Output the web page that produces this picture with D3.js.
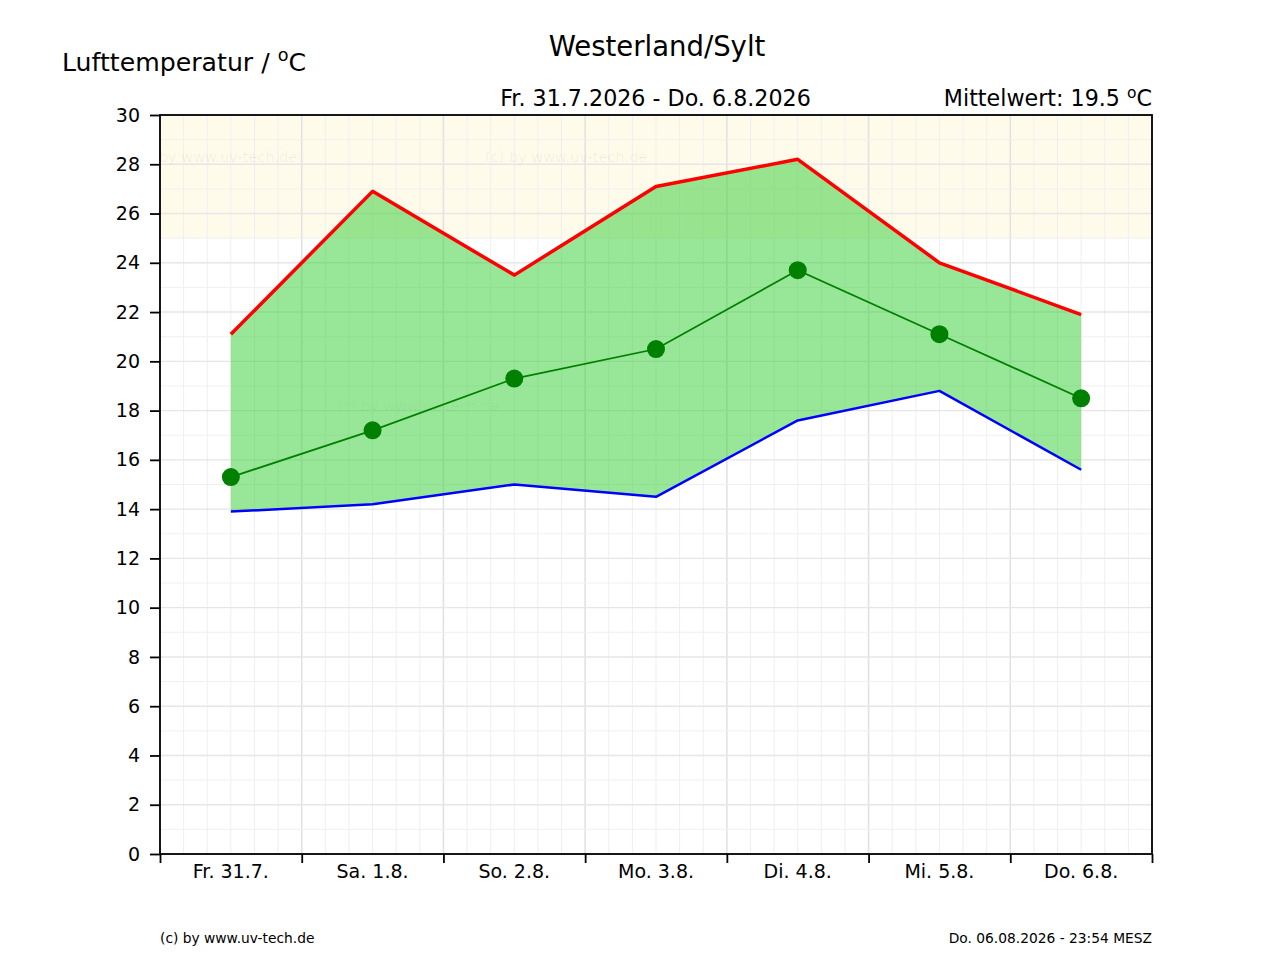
<!DOCTYPE html>
<html>
<head>
<meta charset="utf-8">
<script src="https://cdn.jsdelivr.net/npm/d3@7"></script>
<style>
  html, body { margin: 0; padding: 0; background: #ffffff; }
  svg { display: block; font-family: "DejaVu Sans", sans-serif; }
</style>
</head>
<body>
<svg id="chart" width="1280" height="960"></svg>
<script>
const days = ["Fr. 31.7.", "Sa. 1.8.", "So. 2.8.", "Mo. 3.8.", "Di. 4.8.", "Mi. 5.8.", "Do. 6.8."];
const maxTemp  = [21.1, 26.9, 23.5, 27.1, 28.2, 24.0, 21.9];
const minTemp  = [13.9, 14.2, 15.0, 14.5, 17.6, 18.8, 15.6];
const meanTemp = [15.3, 17.2, 19.3, 20.5, 23.7, 21.1, 18.5];
const yTicks = [0, 2, 4, 6, 8, 10, 12, 14, 16, 18, 20, 22, 24, 26, 28, 30];
const warmBand = [25, 30];

const title = "Westerland/Sylt";
const period = "Fr. 31.7.2026 - Do. 6.8.2026";
const meanLabel = "Mittelwert: 19.5 ";
const yLabel = "Lufttemperatur / ";
const footLeft = "(c) by www.uv-tech.de";
const footRight = "Do. 06.08.2026 - 23:54 MESZ";
const watermark = "(c) by  www.uv-tech.de";

const L = 160, R = 1152, T = 115, B = 854;
const svg = d3.select("#chart");
const x = d3.scaleLinear().domain([0, days.length]).range([L, R]);
const y = d3.scaleLinear().domain([0, 30]).range([B, T]);

svg.append("defs").append("clipPath").attr("id", "plotclip")
  .append("rect").attr("x", L).attr("y", T).attr("width", R - L).attr("height", B - T);

// warm band
svg.append("rect")
  .attr("x", L).attr("width", R - L)
  .attr("y", y(warmBand[1])).attr("height", y(warmBand[0]) - y(warmBand[1]))
  .attr("fill", "#fffbeb");

// grid
const grid = svg.append("g");
const minorX = d3.range(0, days.length * 6 + 1).map(d => d / 6);
grid.selectAll(".vx").data(minorX).join("line")
  .attr("x1", d => x(d)).attr("x2", d => x(d))
  .attr("y1", T).attr("y2", B)
  .attr("stroke", d => Number.isInteger(d) ? "#e2e2e2" : "#efefef")
  .attr("stroke-width", d => Number.isInteger(d) ? 1.6 : 1);
const minorY = d3.range(0, 31);
grid.selectAll(".hy").data(minorY).join("line")
  .attr("x1", L).attr("x2", R)
  .attr("y1", d => y(d)).attr("y2", d => y(d))
  .attr("stroke", d => d % 2 === 0 ? "#e6e6e6" : "#f0f0f0")
  .attr("stroke-width", d => d % 2 === 0 ? 1.4 : 1);

// watermarks
const wm = svg.append("g").attr("clip-path", "url(#plotclip)")
  .attr("font-size", 14.5).attr("fill", "#000").attr("fill-opacity", 0.06);
wm.append("text").attr("x", 135).attr("y", 162).text(watermark);
wm.append("text").attr("x", 485).attr("y", 162).text(watermark);
svg.append("rect").attr("x", 333).attr("y", 397).attr("width", 161).attr("height", 18)
  .attr("fill", "#ffffff").attr("fill-opacity", 0.12);
wm.append("text").attr("x", 337).attr("y", 411).text(watermark);

const xc = (d, i) => x(i + 0.5);

// band fill
const area = d3.area()
  .x((d, i) => x(i + 0.5))
  .y0((d, i) => y(minTemp[i]))
  .y1((d, i) => y(maxTemp[i]));
svg.append("path").datum(days).attr("d", area)
  .attr("fill", "#32cd32").attr("fill-opacity", 0.5);

const line = arr => d3.line().x((d, i) => x(i + 0.5)).y(d => y(d))(arr);
svg.append("path").attr("d", line(maxTemp)).attr("fill", "none")
  .attr("stroke", "#ff0000").attr("stroke-width", 3.5).attr("stroke-linejoin", "round");
svg.append("path").attr("d", line(minTemp)).attr("fill", "none")
  .attr("stroke", "#0000ff").attr("stroke-width", 2.5).attr("stroke-linejoin", "round");
svg.append("path").attr("d", line(meanTemp)).attr("fill", "none")
  .attr("stroke", "#008000").attr("stroke-width", 1.8);
svg.selectAll(".dot").data(meanTemp).join("circle")
  .attr("cx", xc).attr("cy", d => y(d)).attr("r", 9)
  .attr("fill", "#008000");

// axes
const yAxis = svg.append("g").attr("transform", `translate(${L},0)`)
  .call(d3.axisLeft(y).tickValues(yTicks).tickSize(10).tickPadding(10).tickFormat(d3.format("d")));
const xAxis = svg.append("g").attr("transform", `translate(0,${B})`)
  .call(d3.axisBottom(x).tickValues(d3.range(0, days.length + 1)).tickSize(9).tickFormat(""));
[yAxis, xAxis].forEach(a => {
  a.select(".domain").remove();
  a.selectAll(".tick line").attr("stroke", "#000").attr("stroke-width", 1.8);
  a.selectAll("text").attr("font-size", 19).attr("font-family", "DejaVu Sans").attr("fill", "#000");
});
svg.append("g").selectAll("text").data(days).join("text")
  .attr("x", (d, i) => x(i + 0.5)).attr("y", 878)
  .attr("text-anchor", "middle").attr("font-size", 19).text(d => d);

// frame
svg.append("rect").attr("x", L).attr("y", T).attr("width", R - L).attr("height", B - T)
  .attr("fill", "none").attr("stroke", "#000").attr("stroke-width", 1.8);

// texts
svg.append("text").attr("x", 657).attr("y", 56).attr("text-anchor", "middle")
  .attr("font-size", 27.5).text(title);
svg.append("text").attr("x", 655.5).attr("y", 106).attr("text-anchor", "middle")
  .attr("font-size", 22.2).text(period);

function degText(xp, yp, size, anchor, label) {
  const t = svg.append("text").attr("x", xp).attr("y", yp).attr("font-size", size).attr("text-anchor", anchor);
  t.append("tspan").text(label);
  t.append("tspan").attr("font-size", size * 0.7).attr("dy", -size * 0.38).text("o");
  t.append("tspan").attr("dy", size * 0.38).text("C");
}
degText(62, 70.5, 25.2, "start", yLabel);
degText(1152, 106, 22.2, "end", meanLabel);

svg.append("text").attr("x", 160).attr("y", 943).attr("font-size", 13.8).text(footLeft);
svg.append("text").attr("x", 1152).attr("y", 943).attr("font-size", 13.8).attr("text-anchor", "end").text(footRight);
</script>
</body>
</html>
